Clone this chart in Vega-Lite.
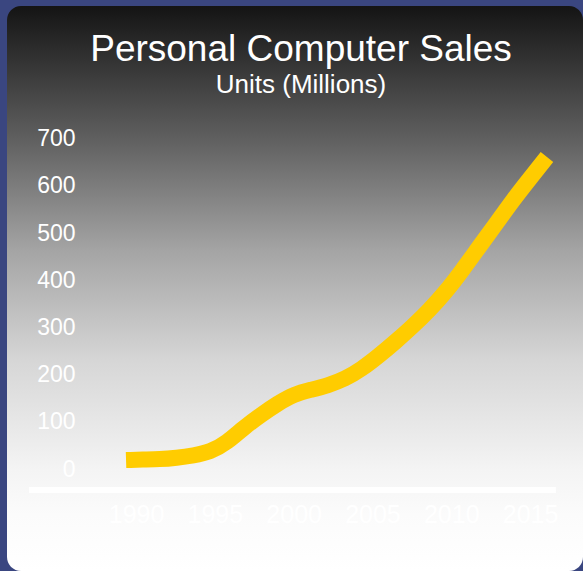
{
  "$schema": "https://vega.github.io/schema/vega-lite/v6.json",
  "width": 576,
  "height": 565,
  "autosize": {"type": "none"},
  "padding": {"left": 7, "top": 6, "right": 0, "bottom": 0},
  "background": "#3a4680",
  "config": {"view": {"stroke": null}, "font": "Liberation Sans"},
  "title": {
    "text": "Personal Computer Sales",
    "subtitle": "Units (Millions)",
    "color": "white",
    "subtitleColor": "white",
    "fontSize": 37,
    "subtitleFontSize": 26,
    "font": "Liberation Sans",
    "subtitleFont": "Liberation Sans",
    "fontWeight": "normal",
    "anchor": "middle",
    "frame": "group",
    "dx": 6,
    "offset": -93,
    "subtitlePadding": 3
  },
  "datasets": {
    "sales": [
      {"year": 1990, "units": 19},
      {"year": 1991, "units": 20},
      {"year": 1992, "units": 21},
      {"year": 1993, "units": 24},
      {"year": 1994, "units": 29},
      {"year": 1995, "units": 38},
      {"year": 1996, "units": 58},
      {"year": 1997, "units": 87},
      {"year": 1998, "units": 114},
      {"year": 1999, "units": 138},
      {"year": 2000, "units": 157},
      {"year": 2001, "units": 168},
      {"year": 2002, "units": 178},
      {"year": 2003, "units": 192},
      {"year": 2004, "units": 213},
      {"year": 2005, "units": 240},
      {"year": 2006, "units": 270},
      {"year": 2007, "units": 302},
      {"year": 2008, "units": 337},
      {"year": 2009, "units": 377},
      {"year": 2010, "units": 423},
      {"year": 2011, "units": 472},
      {"year": 2012, "units": 521},
      {"year": 2013, "units": 570},
      {"year": 2014, "units": 616},
      {"year": 2015, "units": 661}
    ]
  },
  "layer": [
    {
      "data": {"values": [{"part": "card"}]},
      "mark": {
        "type": "rect",
        "cornerRadius": 14,
        "fill": {
          "gradient": "linear",
          "x1": 0, "y1": 0, "x2": 0, "y2": 1,
          "stops": [
            {"offset": 0, "color": "#141414"},
            {"offset": 0.237, "color": "#606060"},
            {"offset": 0.432, "color": "#a4a4a4"},
            {"offset": 0.627, "color": "#d6d6d6"},
            {"offset": 0.821, "color": "#f4f4f4"},
            {"offset": 0.9, "color": "#fbfbfb"},
            {"offset": 1, "color": "#ffffff"}
          ]
        }
      },
      "encoding": {}
    },
    {
      "data": {"values": [{"part": "x axis line"}]},
      "mark": {"type": "rule", "color": "white", "strokeWidth": 6},
      "encoding": {
        "x": {
          "datum": 1983.21,
          "type": "quantitative",
          "scale": {"domain": [1981.81, 2018.36], "nice": false, "zero": false},
          "axis": {
            "orient": "bottom",
            "values": [1990, 1995, 2000, 2005, 2010, 2015],
            "format": "d",
            "title": null,
            "domain": false,
            "ticks": false,
            "tickSize": 0,
            "grid": false,
            "labelColor": "white",
            "labelFont": "Liberation Sans",
            "labelFontSize": 25,
            "labelPadding": 0,
            "labelBaseline": "alphabetic",
            "labelFlush": false,
            "labelOverlap": false,
            "offset": -49,
            "zindex": 2
          }
        },
        "x2": {"datum": 2016.64},
        "y": {
          "datum": -44.5,
          "type": "quantitative",
          "scale": {"domain": [-216.1, 981.1], "nice": false, "zero": false},
          "axis": {
            "orient": "left",
            "values": [0, 100, 200, 300, 400, 500, 600, 700],
            "title": null,
            "domain": false,
            "ticks": false,
            "tickSize": 0,
            "grid": false,
            "labelColor": "white",
            "labelFont": "Liberation Sans",
            "labelFontSize": 23,
            "labelPadding": 0,
            "labelFlush": false,
            "labelOverlap": false,
            "offset": -68,
            "zindex": 2
          }
        }
      }
    },
    {
      "data": {"name": "sales"},
      "mark": {"type": "line", "color": "#FFCC00", "strokeWidth": 16, "interpolate": "natural", "strokeCap": "butt"},
      "encoding": {
        "x": {
          "field": "year",
          "type": "quantitative",
          "scale": {"domain": [1982.93, 2017.14], "nice": false, "zero": false},
          "axis": null
        },
        "y": {
          "field": "units",
          "type": "quantitative",
          "scale": {"domain": [-216.1, 981.1], "nice": false, "zero": false}
        }
      }
    }
  ],
  "resolve": {"scale": {"x": "independent"}, "axis": {"x": "independent"}}
}
